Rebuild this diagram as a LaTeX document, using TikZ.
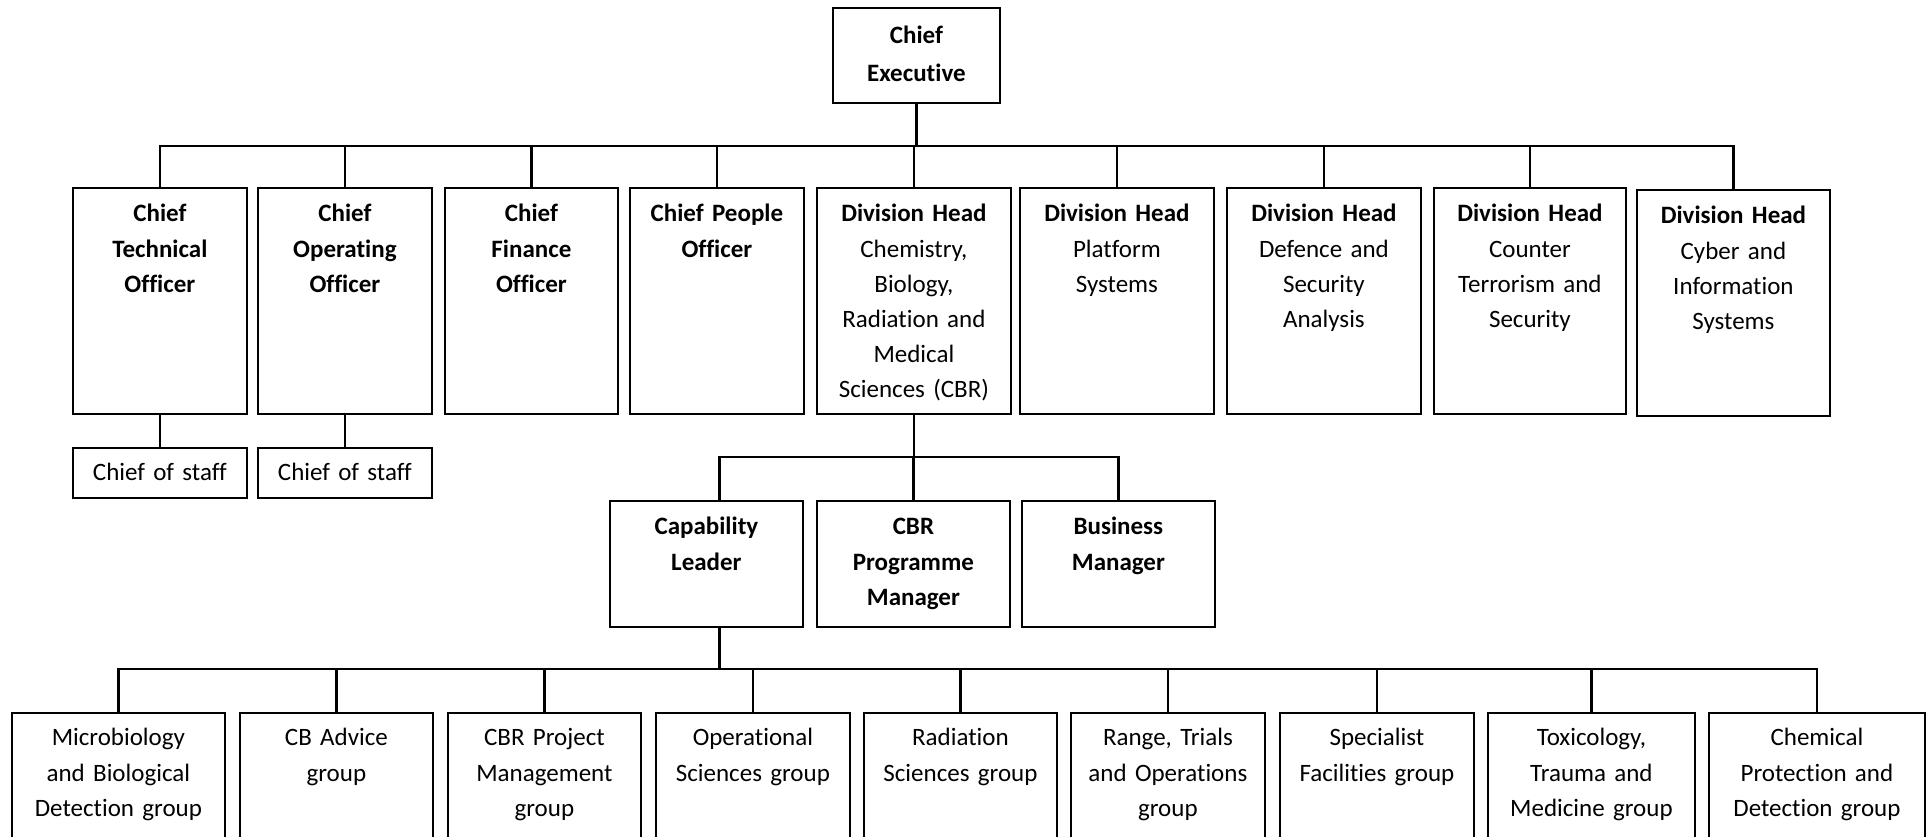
\documentclass[tikz,border=0pt]{standalone}
\usepackage{fontspec}
\setmainfont{Carlito}[Ligatures=NoCommon]
\usetikzlibrary{positioning}
\tikzset{
  box/.style={draw, line width=0.9pt, anchor=north west, inner sep=0pt, align=center,
    font=\fontsize{12.5}{17.6}\selectfont},
  bold/.append style={font=\fontsize{12.5}{17.6}\selectfont\bfseries},
  toprow/.style={box, text height=17pt, text depth=96pt},
  staffrow/.style={box, text height=16.5pt, text depth=8.5pt},
  midrow/.style={box, bold, text height=17pt, text depth=46pt},
  grouprow/.style={box, text height=16.5pt, text depth=62.5pt},
  link/.style={line width=1.3pt},
}
\begin{document}
\begin{tikzpicture}[x=0.5pt,y=-0.5pt]
  \clip (0,0) rectangle (1931,836);
  % top
  \node[box, text width=83.5pt, text height=18pt, text depth=29.5pt,
    font=\fontsize{12.5}{19}\selectfont\bfseries] (ce) at (832,7) {Chief\\Executive};
  % chiefs and division heads
  \node[toprow, bold, text width=87pt] (cto) at (72,187) {Chief\\Technical\\Officer};
  \node[toprow, bold, text width=87pt] (coo) at (257,187) {Chief\\Operating\\Officer};
  \node[toprow, bold, text width=86.5pt] (cfo) at (444,187) {Chief\\Finance\\Officer};
  \node[toprow, bold, text width=87pt] (cpo) at (629,187) {Chief People\\Officer};
  \node[toprow, text width=97pt] (cbr) at (816,187)
    {\textbf{Division Head}\\Chemistry,\\Biology,\\Radiation and\\Medical\\Sciences (CBR)};
  \node[toprow, text width=97pt] (plat) at (1019,187) {\textbf{Division Head}\\Platform\\Systems};
  \node[toprow, text width=97pt] (dsa) at (1226,187) {\textbf{Division Head}\\Defence and\\Security\\Analysis};
  \node[toprow, text width=96pt] (cts) at (1433,187) {\textbf{Division Head}\\Counter\\Terrorism and\\Security};
  \node[toprow, text width=96.5pt, yshift=-1pt] (cis) at (1636,187) {\textbf{Division Head}\\Cyber and\\Information\\Systems};
  % chiefs of staff
  \node[staffrow, text width=87pt] (cos1) at (72,447) {Chief of staff};
  \node[staffrow, text width=87pt] (cos2) at (257,447) {Chief of staff};
  % CBR leads
  \node[midrow, text width=96.5pt] (cl) at (609,500) {Capability\\Leader};
  \node[midrow, text width=96.5pt] (pm) at (816,500) {CBR\\Programme\\Manager};
  \node[midrow, text width=96.5pt] (bm) at (1021,500) {Business\\Manager};
  % groups
  \node[grouprow, text width=106.5pt] (micro) at (11,712) {Microbiology\\and Biological\\Detection group};
  \node[grouprow, text width=96.5pt] (cba) at (239,712) {CB Advice\\group};
  \node[grouprow, text width=96.5pt] (pmg) at (447,712) {CBR Project\\Management\\group};
  \node[grouprow, text width=97pt] (ops) at (655,712) {Operational\\Sciences group};
  \node[grouprow, text width=96.5pt] (rad) at (863,712) {Radiation\\Sciences group};
  \node[grouprow, text width=97pt] (rto) at (1070,712) {Range, Trials\\and Operations\\group};
  \node[grouprow, text width=97pt] (sfg) at (1279,712) {Specialist\\Facilities group};
  \node[grouprow, text width=103.5pt] (tox) at (1487,712) {Toxicology,\\Trauma and\\Medicine group};
  \node[grouprow, text width=108pt] (chem) at (1708,712) {Chemical\\Protection and\\Detection group};
  % connectors
  \coordinate (bus1) at (0,146);
  \coordinate (bus2) at (0,457);
  \coordinate (bus3) at (0,669);
  \coordinate (clstem) at ([xshift=6.5pt]cl.north);
  \coordinate (clfoot) at ([xshift=6.5pt]cl.south);
  \foreach \n in {cto,coo,cfo,cpo,cbr,plat,dsa,cts,cis}
    \draw[link] (ce.south) |- (\n.north |- bus1) -- (\n.north);
  \draw[link] (cto.south) -- (cos1.north);
  \draw[link] (coo.south) -- (cos2.north);
  \foreach \n in {clstem,pm.north,bm.north}
    \draw[link] (cbr.south) |- (\n |- bus2) -- (\n);
  \foreach \n in {micro,cba,pmg,ops,rad,rto,sfg,tox,chem}
    \draw[link] (clfoot) |- (\n.north |- bus3) -- (\n.north);
\end{tikzpicture}
\end{document}
